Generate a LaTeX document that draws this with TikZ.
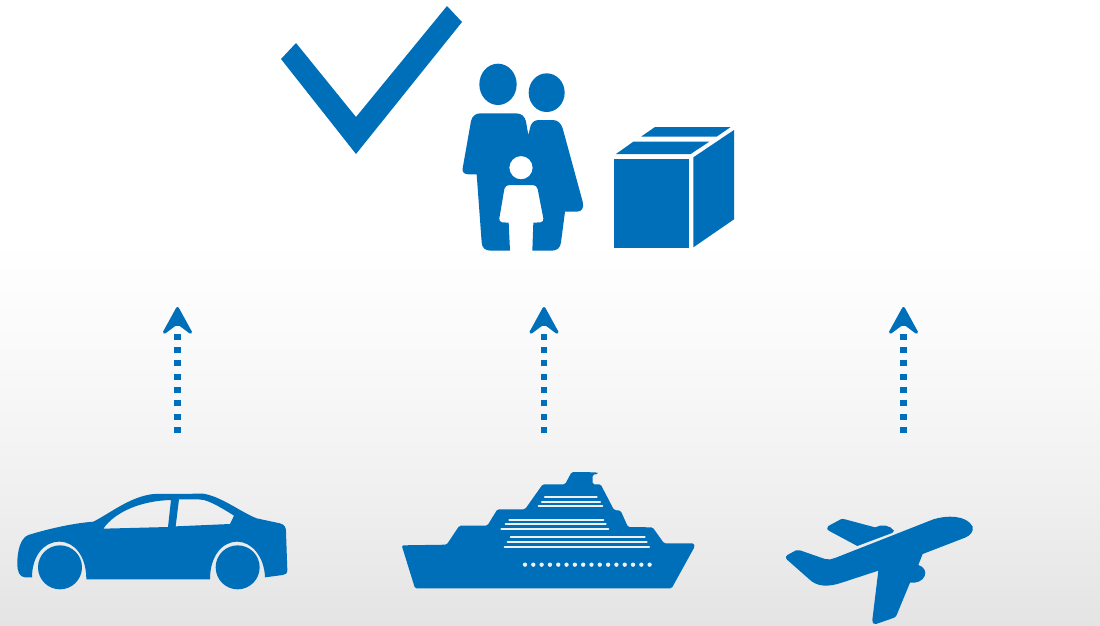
\documentclass[tikz,border=0pt]{standalone}
\usepackage{tikz}
\usetikzlibrary{arrows.meta,positioning}
\definecolor{iconblue}{HTML}{006FBA}
\definecolor{bglight}{HTML}{F8F8F8}
\definecolor{bgmid}{HTML}{F0F0F0}
\definecolor{bgend}{HTML}{E4E4E4}

\begin{document}
\begin{tikzpicture}[
    x=1pt, y=-1pt,
    icon/.style={fill=iconblue, draw=none},
    holes/.style={fill=iconblue, draw=none, even odd rule},
    stripe/.style={draw=bgmid, line width=2.2pt, line cap=round},
    arr/.style={draw=iconblue, line width=6.5pt, dash pattern=on 6pt off 7.33pt,
        -{Stealth[length=32pt, width=35pt, inset=13pt, line width=3pt, round]}}
]
\useasboundingbox (0,0) rectangle (1100,625);
\fill[white] (0,0) rectangle (1100,241);
\fill[top color=white, bottom color=bglight] (0,240) rectangle (1100,380);
\fill[top color=bglight, bottom color=bgmid] (0,379) rectangle (1100,490);
\fill[top color=bgmid, bottom color=bgend] (0,489) rectangle (1100,625);

\fill[icon] (281,59) -- (296,43) -- (356,117) -- (447,6) -- (462,22) -- (356,154) -- cycle;

\begin{scope}[shift={(450,55)}, scale=1/3]
\fill[icon] (144,88) ellipse [x radius=56, y radius=62];
\fill[icon] (290,113) ellipse [x radius=54, y radius=58];
\fill[holes] (38,340) -- (63,198) .. controls (67,182) and (78,175) .. (92,175)
    -- (198,175) .. controls (215,175) and (225,185) .. (228,200) -- (235,240)
    -- (242,212) .. controls (247,200) and (255,195) .. (268,195)
    -- (308,195) .. controls (323,195) and (333,205) .. (338,220)
    -- (398,440) .. controls (403,460) and (395,470) .. (380,470)
    -- (345,470) -- (333,562) .. controls (331,578) and (322,587) .. (305,587)
    -- (247,587) -- (250,503) -- (272,502) .. controls (279,501) and (281,496) .. (280,490)
    -- (263,402) .. controls (261,394) and (256,390) .. (248,390)
    -- (178,390) .. controls (170,390) and (165,394) .. (163,402)
    -- (148,490) .. controls (147,496) and (150,501) .. (156,502) -- (176,503)
    -- (180,587) -- (122,587) .. controls (105,587) and (96,578) .. (95,562)
    -- (80,358) -- (55,358) .. controls (42,358) and (36,350) .. (38,340) -- cycle
    (213,338) circle [radius=35];
\end{scope}

\begin{scope}[shift={(600,115)}, scale=1/3]
\fill[icon] (42,132) rectangle (268,398);
\fill[icon] (280,127) -- (402,45) -- (402,313) -- (280,397) -- cycle;
\fill[icon] (48,117) -- (100,80) -- (328,80) -- (272,117) -- cycle;
\fill[icon] (123,65) -- (165,36) -- (392,36) -- (350,65) -- cycle;
\end{scope}

\coordinate (car) at (177.5,433);
\coordinate (cartop) at (177.5,307);
\coordinate (ship) at (544,433);
\coordinate (shiptop) at (544,307);
\coordinate (plane) at (903.5,433);
\coordinate (planetop) at (903.5,307);

\draw[arr] (car) -- (cartop);
\draw[arr] (ship) -- (shiptop);
\draw[arr] (plane) -- (planetop);

\begin{scope}[shift={(0,480)}, scale=1/3]
\fill[holes] (96,292) -- (75,292) .. controls (58,291) and (52,275) .. (52,250)
    .. controls (52,215) and (60,175) .. (85,165)
    .. controls (140,148) and (215,130) .. (280,125)
    .. controls (330,100) and (390,50) .. (460,42)
    -- (610,41) .. controls (665,50) and (720,95) .. (770,115)
    -- (840,130) .. controls (853,134) and (858,140) .. (858,155)
    -- (862,270) .. controls (862,280) and (856,285) .. (848,285)
    -- (795,292) .. controls (793,230) and (755,185) .. (712,185)
    .. controls (665,185) and (630,230) .. (630,298)
    -- (259,298) .. controls (259,230) and (225,185) .. (178,185)
    .. controls (130,185) and (96,230) .. (96,292) -- cycle
    (310,146) .. controls (345,95) and (425,62) .. (513,60) -- (504,141) -- cycle
    (537,58) .. controls (570,58) and (595,57) .. (612,60)
    .. controls (640,68) and (675,90) .. (702,107) -- (690,132) -- (527,139) -- cycle;
\fill[icon] (180,262) circle [radius=66];
\fill[icon] (713,262) circle [radius=66];
\end{scope}

\begin{scope}[shift={(390,460)}, scale=1/3]
\fill[icon, rounded corners=1.5pt] (35,256) -- (170,254) -- (208,197) -- (292,197) -- (322,148)
    -- (405,148) -- (458,73) -- (525,73) -- (545,36) -- (622,37) -- (624,42) -- (608,44)
    -- (608,73) -- (632,73) -- (672,150) -- (692,152) -- (714,201) -- (788,202)
    -- (822,250) -- (912,250) -- (914,260) -- (845,385) -- (75,385) -- cycle;
\foreach \xa/\xb/\ya in {465/620/112, 456/630/126, 446/637/139, 358/640/179, 347/647/192,
    334/655/207, 362/764/231, 353/770/245, 344/777/260}
    \draw[stripe] (\xa,\ya) -- (\xb,\ya);
\foreach \i in {0,...,15}
    \fill[bgmid] ({405+\i*24.93},314) circle [radius=6.5];
\end{scope}

\begin{scope}[shift={(770,500)}, scale=1/3]
\fill[icon] (175,78) -- (212,58) .. controls (216,56) and (220,57) .. (225,58) -- (315,82)
    .. controls (335,72) and (360,75) .. (372,92) .. controls (370,98) and (365,100) .. (358,102)
    -- (262,138) -- (178,93) .. controls (170,88) and (170,82) .. (175,78) -- cycle;
\fill[icon] (52,165) -- (78,151) .. controls (82,149) and (86,150) .. (90,151)
    -- (165,177) .. controls (175,180) and (185,178) .. (195,174)
    -- (490,58) .. controls (530,45) and (590,45) .. (608,80)
    .. controls (612,95) and (600,107) .. (585,113)
    -- (458,162) -- (445,195) .. controls (462,200) and (470,215) .. (464,228)
    .. controls (458,243) and (440,250) .. (420,248)
    -- (380,345) .. controls (378,350) and (375,352) .. (370,354)
    -- (318,372) .. controls (310,374) and (306,368) .. (307,360)
    -- (325,212) -- (215,248) .. controls (175,262) and (140,260) .. (118,238)
    -- (50,178) .. controls (46,173) and (47,168) .. (52,165) -- cycle;
\end{scope}
\end{tikzpicture}
\end{document}
